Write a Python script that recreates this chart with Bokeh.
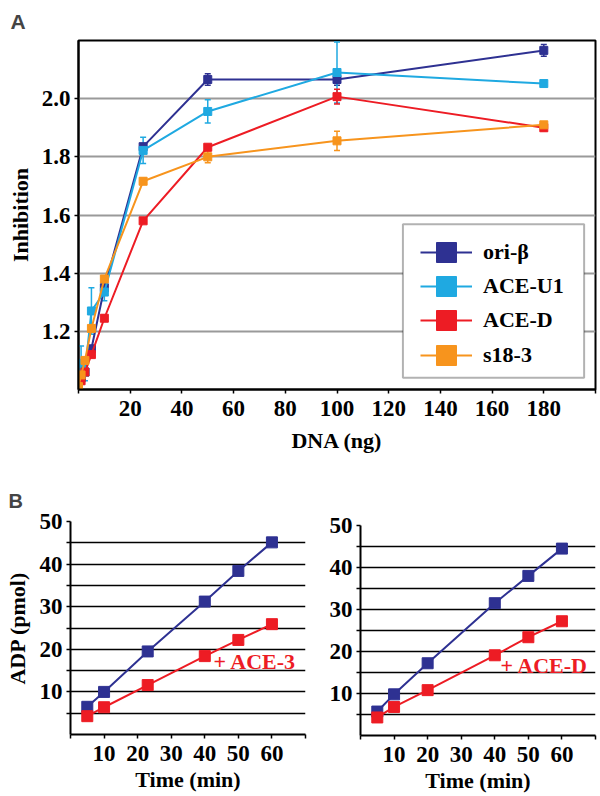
from bokeh.plotting import figure
from bokeh.models import (Range1d, FixedTicker, PrintfTickFormatter, Whisker, TeeHead,
                          ColumnDataSource, Legend, LegendItem, BoxAnnotation, Label, Spacer)
from bokeh.layouts import column, row
from bokeh.embed import file_html
from bokeh.resources import INLINE

SERIF = "Liberation Serif"
SANS = "Liberation Sans"

# ---------------- Panel A data ----------------
dna_ng = [0, 1, 2.5, 5, 10, 25, 50, 100, 180]
ori_beta = [1.01, 1.04, 1.06, 1.14, 1.35, 1.835, 2.066, 2.066, 2.166]
ori_beta_err = [0.0, 0.01, 0.01, 0.01, 0.01, 0.01, 0.02, 0.02, 0.02]
ace_u1 = [1.00, 1.09, 1.06, 1.27, 1.335, 1.822, 1.956, 2.09, 2.052]
ace_u1_err = [0.01, 0.06, 0.03, 0.08, 0.03, 0.045, 0.04, 0.105, 0.0]
ace_d = [1.01, 1.03, 1.06, 1.12, 1.245, 1.58, 1.833, 2.007, 1.90]
ace_d_err = [0.0, 0.01, 0.01, 0.01, 0.01, 0.0, 0.0, 0.025, 0.01]
s18_3 = [1.01, 1.05, 1.10, 1.21, 1.38, 1.716, 1.80, 1.855, 1.91]
s18_3_err = [0.0, 0.01, 0.01, 0.01, 0.01, 0.01, 0.02, 0.033, 0.01]

series_names = ["ori-β", "ACE-U1", "ACE-D", "s18-3"]
series_vals = [ori_beta, ace_u1, ace_d, s18_3]
series_errs = [ori_beta_err, ace_u1_err, ace_d_err, s18_3_err]
series_colors = ["#2e3192", "#1fa9e1", "#ed1c24", "#f7941d"]

a_xticks = [20, 40, 60, 80, 100, 120, 140, 160, 180]
a_yticks = [1.2, 1.4, 1.6, 1.8, 2.0]

# ---------------- Panel B data ----------------
time_left = [5, 10, 23, 40, 50, 60]
adp_ctrl_left = [6.5, 10.0, 19.5, 31.2, 38.4, 45.1]
adp_ace3 = [4.3, 6.4, 11.6, 18.4, 22.2, 25.9]

time_right = [5, 10, 20, 40, 50, 60]
adp_ctrl_right = [5.7, 9.8, 17.2, 31.5, 38.0, 44.5]
adp_aced = [4.3, 6.8, 10.8, 19.1, 23.4, 27.2]

b_xticks = [10, 20, 30, 40, 50, 60]
b_yticks = [10, 20, 30, 40, 50]
b_grid = [5, 10, 15, 20, 25, 30, 35, 40, 45, 50]

BLUE = "#2e3192"
RED = "#ed1c24"


def style_axes(p):
    p.background_fill_color = "white"
    p.border_fill_color = "white"
    for ax in (p.xaxis[0], p.yaxis[0]):
        ax.axis_line_color = "black"
        ax.axis_line_width = 2
        ax.major_tick_line_color = "black"
        ax.major_tick_line_width = 1.5
        ax.major_tick_out = 4
        ax.major_tick_in = 0
        ax.minor_tick_line_color = "black"
        ax.minor_tick_line_width = 1.5
        ax.minor_tick_out = 4
        ax.minor_tick_in = 0
        ax.major_label_text_font = SERIF
        ax.major_label_text_font_style = "bold"
        ax.major_label_text_font_size = "23px"
        ax.major_label_text_color = "black"
        ax.axis_label_text_font = SERIF
        ax.axis_label_text_font_style = "bold"
        ax.axis_label_text_font_size = "22px"
        ax.axis_label_text_color = "black"


# ---------------- Panel A ----------------
pA = figure(width=600, height=462, x_range=Range1d(0, 200), y_range=Range1d(1.0, 2.2),
            output_backend="svg", toolbar_location=None,
            min_border_left=78, min_border_right=5, min_border_top=40, min_border_bottom=73)
style_axes(pA)
pA.title.text = "A"
pA.title.text_font = SANS
pA.title.text_font_style = "bold"
pA.title.text_font_size = "21px"
pA.title.align = "left"
pA.title.offset = -68
pA.title.standoff = 15

pA.xaxis.ticker = FixedTicker(ticks=a_xticks, minor_ticks=[0, 200])
pA.yaxis.ticker = FixedTicker(ticks=a_yticks)
pA.yaxis.formatter = PrintfTickFormatter(format="%.1f")
pA.xaxis.axis_label = "DNA (ng)"
pA.yaxis.axis_label = "Inhibition"
pA.xaxis.major_label_standoff = 7
pA.yaxis.major_label_standoff = 4
pA.xaxis.axis_label_standoff = 9
pA.yaxis.axis_label_standoff = 6
pA.xgrid.visible = False
pA.ygrid.grid_line_color = "#9a9a9a"
pA.ygrid.grid_line_width = 2
pA.outline_line_color = "black"
pA.outline_line_width = 2
pA.outline_line_alpha = 1

legend_entries = []
for name, vals, errs, col in zip(series_names, series_vals, series_errs, series_colors):
    src = ColumnDataSource(dict(x=dna_ng, y=vals,
                                upper=[v + e for v, e in zip(vals, errs)],
                                lower=[v - e for v, e in zip(vals, errs)]))
    pA.add_layout(Whisker(source=src, base="x", upper="upper", lower="lower",
                          line_color=col, line_width=1.5,
                          upper_head=TeeHead(size=6, line_color=col, line_width=1.5),
                          lower_head=TeeHead(size=6, line_color=col, line_width=1.5)))
    lr = pA.line("x", "y", source=src, line_color=col, line_width=2)
    sr = pA.scatter("x", "y", source=src, marker="square", size=8,
                    fill_color=col, line_color=col)
    legend_entries.append((name, [lr, sr]))

# legend frame
pA.add_layout(BoxAnnotation(left=125.5, right=195.6, bottom=1.04, top=1.568,
                            fill_color="white", fill_alpha=1,
                            line_color="black", line_width=2))
# one legend per entry so the keys can be large and closely spaced
for i, (name, rends) in enumerate(legend_entries):
    lg = Legend(items=[LegendItem(label=name, renderers=rends)],
                location=(342, 112.5 - 34.4 * i), orientation="vertical",
                glyph_width=52, glyph_height=50, label_height=50, spacing=0,
                padding=0, margin=0, label_standoff=11,
                label_text_font=SERIF, label_text_font_style="bold",
                label_text_font_size="22px", label_text_color="black",
                background_fill_alpha=0, border_line_color=None)
    pA.add_layout(lg, "center")


# ---------------- Panel B ----------------
def panel_b(width, height, mb_left, mb_right, mb_top, mb_bottom, t, ctrl, treated,
            label_text, lx, ly, ylabel=None, title=None):
    p = figure(width=width, height=height, x_range=Range1d(0, 70), y_range=Range1d(0, 50),
               output_backend="svg", toolbar_location=None,
               min_border_left=mb_left, min_border_right=mb_right,
               min_border_top=mb_top, min_border_bottom=mb_bottom)
    style_axes(p)
    p.outline_line_color = None
    p.xaxis.ticker = FixedTicker(ticks=b_xticks, minor_ticks=[0, 70])
    p.yaxis.ticker = FixedTicker(ticks=b_yticks, minor_ticks=[5, 15, 25, 35, 45])
    p.xaxis.major_label_standoff = 7
    p.xaxis.axis_label = "Time (min)"
    p.xaxis.axis_label_standoff = 3
    p.yaxis.major_label_standoff = 4
    if ylabel:
        p.yaxis.axis_label = ylabel
        p.yaxis.axis_label_standoff = 7
    p.xgrid.visible = False
    p.ygrid.ticker = FixedTicker(ticks=b_grid)
    p.ygrid.grid_line_color = "black"
    p.ygrid.grid_line_width = 1.5
    if title:
        p.title.text = title
        p.title.text_font = SANS
        p.title.text_font_style = "bold"
        p.title.text_font_size = "20px"
        p.title.align = "left"
        p.title.offset = -62
        p.title.standoff = 19
    p.line(t, ctrl, line_color=BLUE, line_width=2)
    p.scatter(t, ctrl, marker="square", size=11, fill_color=BLUE, line_color=BLUE)
    p.line(t, treated, line_color=RED, line_width=2)
    p.scatter(t, treated, marker="square", size=11, fill_color=RED, line_color=RED)
    p.add_layout(Label(x=lx, y=ly, text=label_text, text_font=SERIF, text_font_style="bold",
                       text_font_size="22px", text_color=RED, text_baseline="middle",
                       text_align="left"))
    return p


pB1 = panel_b(308, 333, 70, 3, 59, 61, time_left, adp_ctrl_left, adp_ace3, "+ ACE-3",
              42.6, 17.2, ylabel="ADP (pmol)", title="B")
pB2 = panel_b(292, 329, 52, 5, 59, 57, time_right, adp_ctrl_right, adp_aced, "+ ACE-D",
              41.7, 16.7)

layout = column(pA, row(pB1, column(Spacer(width=292, height=4), pB2)))
open("out.html", "w").write(file_html(layout, INLINE))
